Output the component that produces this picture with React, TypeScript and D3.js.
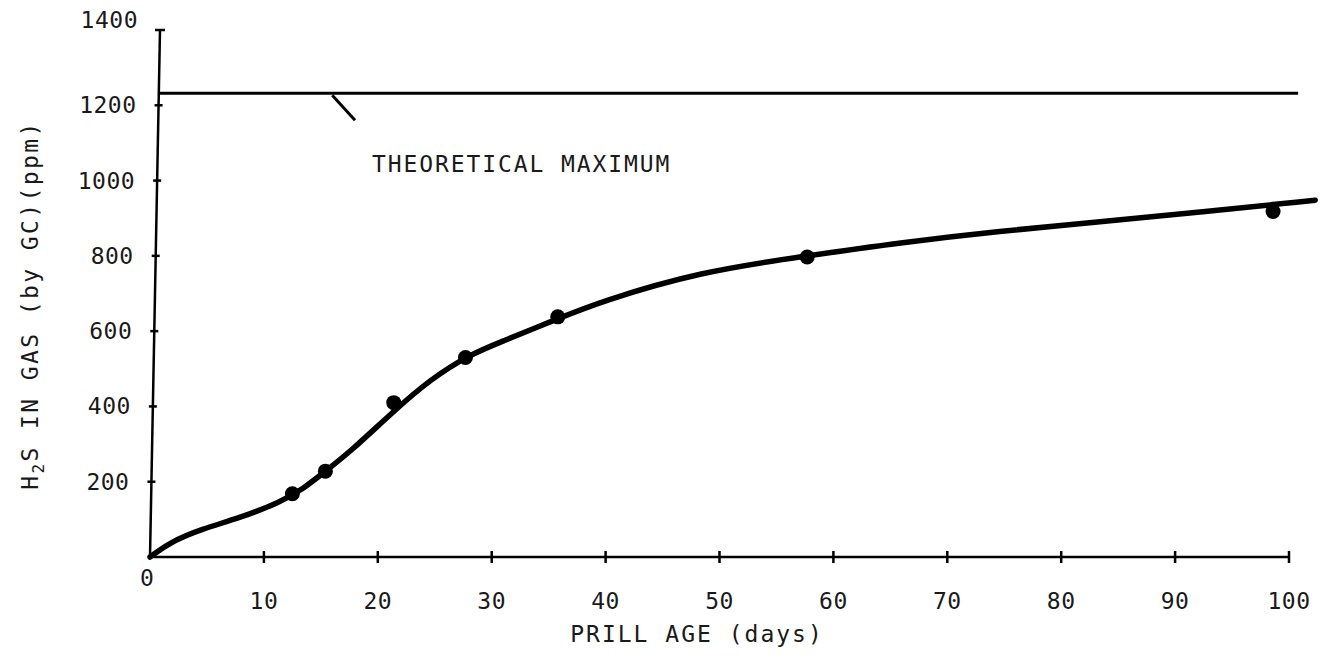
import React from "react";
import * as d3 from "d3";

const xTicks = [10, 20, 30, 40, 50, 60, 70, 80, 90, 100];
const yTicks = [200, 400, 600, 800, 1000, 1200, 1400];
const theoreticalMax = 1232;
const measuredDays = [12.5, 15.4, 21.4, 27.7, 35.8, 57.7, 98.6];
const measuredPpm = [168, 228, 410, 530, 638, 797, 918];
const fitDays = [0, 0, 1.8, 4.5, 7.9, 11.4, 13.5, 15.4, 17.6, 21.3, 24.6, 28.1, 30.7, 35.8, 39.5, 48.3, 57.7, 65.8, 74.6, 83.4, 92.2, 102.3, 102.3];
const fitPpm = [0, 0, 40, 74, 104, 145, 182, 228, 280, 385, 472, 538, 570, 633, 678, 758, 800, 835, 866, 890, 916, 948, 948];

const W = 1337;
const H = 663;
const FONT = "'DejaVu Sans Mono', monospace";

export default function App() {
  const x = d3.scaleLinear().domain([0, 100]).range([150, 1289]);
  const y = d3.scaleLinear().domain([0, 1400]).range([557, 30]);
  const fit = fitDays.map((d, i) => [d, fitPpm[i]] as [number, number]);
  const line = d3
    .line<[number, number]>()
    .x((d) => x(d[0]))
    .y((d) => y(d[1]))
    .curve(d3.curveBasis);
  const x0 = x(0);
  const y0 = y(0);
  return (
    <svg width={W} height={H} style={{ position: "absolute", left: 0, top: 0, background: "#fff" }}>
      {/* axes */}
      <line x1={x0} y1={y0} x2={x0 + 10} y2={y(1400)} stroke="#000" strokeWidth={2.5} />
      <line x1={x0} y1={y0} x2={x(100)} y2={y0} stroke="#000" strokeWidth={2.5} />
      {yTicks.map((t) => {
        const xa = x0 + (10 * t) / 1400;
        return (
          <g key={"y" + t}>
            <line x1={xa - (t === 1400 ? 5 : 4)} x2={xa + (t === 1400 ? 5 : 4)} y1={y(t)} y2={y(t)} stroke="#000" strokeWidth={2.5} />
            <text x={xa - 22} y={y(t) - (t === 1400 ? 10 : 0)} dy="0.35em" textAnchor="end" fontFamily={FONT} fontSize={23} fill="#1a1a1a" letterSpacing={0.5}>
              {t}
            </text>
          </g>
        );
      })}
      {xTicks.map((t) => (
        <g key={"x" + t}>
          <line x1={x(t)} x2={x(t)} y1={y0 - 6} y2={y0 + 6} stroke="#000" strokeWidth={2.5} />
          <text x={x(t)} y={y0 + 52} textAnchor="middle" fontFamily={FONT} fontSize={23} fill="#1a1a1a" letterSpacing={0.5}>
            {t}
          </text>
        </g>
      ))}
      <text x={x0 - 3} y={y0 + 29} textAnchor="middle" fontFamily={FONT} fontSize={23} fill="#1a1a1a">
        0
      </text>
      {/* theoretical max */}
      <line x1={x0 + 9} x2={x(100.8)} y1={y(theoreticalMax)} y2={y(theoreticalMax)} stroke="#000" strokeWidth={3} />
      <line x1={x(16)} y1={y(theoreticalMax) + 2} x2={x(18)} y2={y(theoreticalMax) + 27} stroke="#000" strokeWidth={3} />
      <text x={x(19.5)} y={y(theoreticalMax) + 79} fontFamily={FONT} fontSize={23} fill="#1a1a1a" letterSpacing={1.9}>
        THEORETICAL MAXIMUM
      </text>
      {/* fitted curve */}
      <path d={line(fit) || ""} fill="none" stroke="#000" strokeWidth={5.5} strokeLinecap="round" />
      {measuredDays.map((d, i) => (
        <circle key={"p" + i} cx={x(d)} cy={y(measuredPpm[i])} r={7.5} fill="#000" />
      ))}
      {/* axis titles */}
      <text x={697} y={642} textAnchor="middle" fontFamily={FONT} fontSize={23} fill="#1a1a1a" letterSpacing={2}>
        PRILL AGE (days)
      </text>
      <text
        transform={`translate(38, 305) rotate(-90)`}
        textAnchor="middle"
        fontFamily={FONT}
        fontSize={23}
        fill="#1a1a1a"
        letterSpacing={2.4}
      >
        <tspan>H</tspan>
        <tspan fontSize={16} dy={6}>2</tspan>
        <tspan dy={-6}>S IN GAS (by GC)(ppm)</tspan>
      </text>
    </svg>
  );
}
